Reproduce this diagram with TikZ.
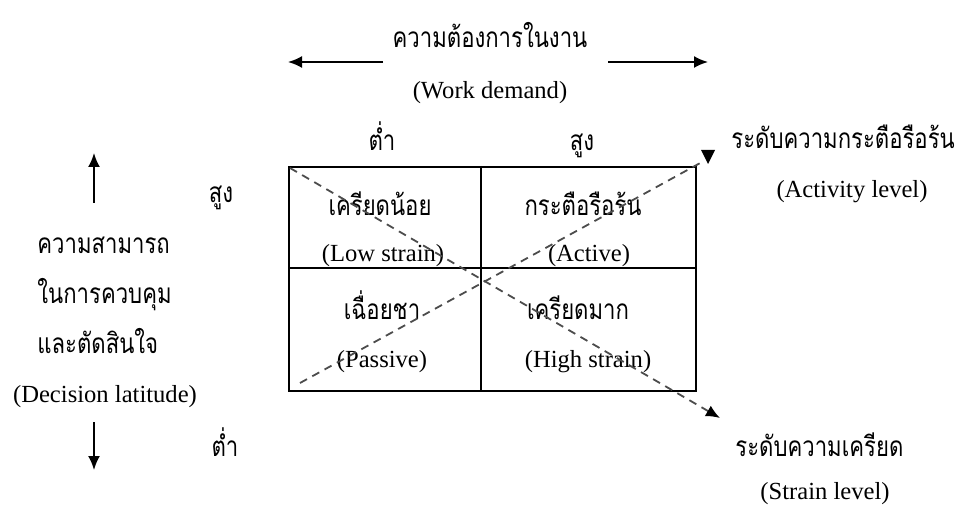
\documentclass[tikz,border=0pt]{standalone}
\usepackage{fontspec}
\setmainfont{Liberation Serif}
\newfontfamily\thai[Script=Thai, FakeStretch=0.79]{Loma}
\usetikzlibrary{arrows.meta}
\tikzset{
  en/.style={inner sep=0pt, font=\fontsize{12.3}{14}\selectfont},
  th/.style={inner sep=0pt, text height=7.5pt, text depth=0pt, font=\fontsize{14}{16}\selectfont\thai},
  axis/.style={line width=1pt, -{Latex[length=7pt,width=6pt]}},
  diag/.style={dash pattern=on 4pt off 3pt, line width=0.9pt, draw=black!70},
  grid/.style={line width=0.9pt}
}
\begin{document}
\begin{tikzpicture}[x=0.5pt,y=-0.5pt]
\path[use as bounding box, fill=white] (0,0) rectangle (976,508);
% title
\node[th] (wdth) at (490,40) {ความต้องการในงาน};
\node[en] (wden) at (490,93) {(Work demand)};
\coordinate (la0) at (383,62); \coordinate (la1) at (288,62);
\coordinate (ra0) at (608,62); \coordinate (ra1) at (708,62);
\draw[axis] (la0) -- (la1);
\draw[axis] (ra0) -- (ra1);
% column headers
\node[th] (clow) at (382,143) {ต่ำ};
\node[th] (chigh) at (582,143) {สูง};
% table
\node[draw, grid, minimum width=203.5pt, minimum height=112pt, inner sep=0pt, anchor=north west] (tbl) at (288,166) {};
\coordinate (vt) at (481,166); \coordinate (vb) at (481,390);
\coordinate (hl) at (288,268); \coordinate (hr) at (695,268);
\draw[grid] (vt) -- (vb);
\draw[grid] (hl) -- (hr);
% cells
\node[th] (c1t) at (380,208) {เครียดน้อย};
\node[en] (c1e) at (383,256) {(Low strain)};
\node[th] (c2t) at (583,208) {กระตือรือร้น};
\node[en] (c2e) at (589,256) {(Active)};
\node[th] (c3t) at (382,312) {เฉื่อยชา};
\node[en] (c3e) at (382,362) {(Passive)};
\node[th] (c4t) at (578,312) {เครียดมาก};
\node[en] (c4e) at (588,362) {(High strain)};
% diagonals
\coordinate (s0) at (290,168); \coordinate (s1) at (720,418);
\draw[diag, -{Latex[length=7pt,width=6pt,color=black]}] (s0) -- (s1);
\coordinate (a0) at (300,383); \coordinate (a1) at (702,162);
\draw[diag] (a0) -- (a1);
\coordinate (atip) at (708,164);
\fill (atip) -- ++(-7,-14) -- ++(14,0) -- cycle;
% left axis
\coordinate (u0) at (94,203); \coordinate (u1) at (94,153);
\draw[axis] (u0) -- (u1);
\node[th] (lhigh) at (221,195) {สูง};
\node[th, anchor=west] (dl1) at (37,246) {ความสามารถ};
\node[th, anchor=west] (dl2) at (37,296) {ในการควบคุม};
\node[th, anchor=west] (dl3) at (37,346) {และตัดสินใจ};
\node[en] (dlen) at (105,397) {(Decision latitude)};
\coordinate (d0) at (94,422); \coordinate (d1) at (94,470);
\draw[axis] (d0) -- (d1);
\node[th] (llow) at (225,449) {ต่ำ};
% right labels
\node[th, anchor=west] (actth) at (731,141) {ระดับความกระตือรือร้น};
\node[en] (acten) at (852,192) {(Activity level)};
\node[th, anchor=west] (strth) at (735,449) {ระดับความเครียด};
\node[en] (stren) at (825,494) {(Strain level)};
\end{tikzpicture}
\end{document}
